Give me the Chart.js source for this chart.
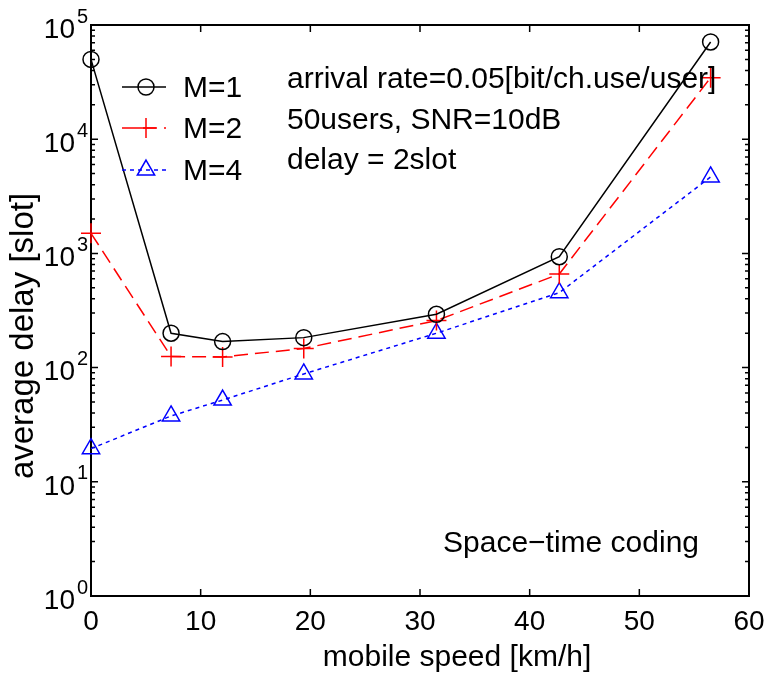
<!DOCTYPE html>
<html>
<head>
<meta charset="utf-8">
<script src="https://cdn.jsdelivr.net/npm/chart.js@4.4.1/dist/chart.umd.min.js"></script>
<style>
  html, body { margin: 0; padding: 0; background: #fff; }
  #wrap { width: 768px; height: 678px; }
</style>
</head>
<body>
<div id="wrap"><canvas id="myChart" width="768" height="678"></canvas></div>
<script>
// values
const speeds = [0, 7.3, 12.0, 19.4, 31.5, 42.7, 56.5];
const delayM1 = [50000, 200, 169, 183, 293, 935, 71000];
const delayM2 = [1500, 125, 124, 147, 258, 660, 34600];
const delayM4 = [19.5, 37.7, 52, 88, 200, 453, 4670];
const seriesNames = ['M=1', 'M=2', 'M=4'];
const xTicks = [0, 10, 20, 30, 40, 50, 60];
const yDecades = [0, 1, 2, 3, 4, 5];
const notes = ['arrival rate=0.05[bit/ch.use/user]', '50users, SNR=10dB', 'delay = 2slot'];
const schemeLabel = 'Space\u2212time coding';

const FONT = '"Liberation Sans", Arial, Helvetica, sans-serif';

function toPoints(ys) {
    return speeds.map((s, i) => ({ x: s, y: ys[i] }));
}

const matlabAxes = {
    id: 'matlabAxes',
    beforeDatasetsDraw(chart) {
        const ctx = chart.ctx;
        const a = chart.chartArea;
        const xs = chart.scales.x;
        const ys = chart.scales.y;
        ctx.save();
        ctx.strokeStyle = '#000';
        ctx.lineWidth = 1.5;
        ctx.beginPath();
        // x ticks top and bottom
        xTicks.forEach(v => {
            const px = xs.getPixelForValue(v);
            ctx.moveTo(px, a.bottom); ctx.lineTo(px, a.bottom - 7);
            ctx.moveTo(px, a.top); ctx.lineTo(px, a.top + 7);
        });
        // y ticks, major + minor
        yDecades.forEach(k => {
            for (let m = 1; m <= 9; m++) {
                const v = m * Math.pow(10, k);
                if (v > 1e5) break;
                const py = ys.getPixelForValue(v);
                const len = m === 1 ? 7 : 4;
                ctx.moveTo(a.left, py); ctx.lineTo(a.left + len, py);
                ctx.moveTo(a.right, py); ctx.lineTo(a.right - len, py);
            }
        });
        ctx.stroke();
        ctx.lineWidth = 2;
        ctx.strokeRect(a.left, a.top, a.right - a.left, a.bottom - a.top);
        ctx.restore();
    },
    afterDraw(chart) {
        const ctx = chart.ctx;
        const ys = chart.scales.y;
        ctx.save();
        ctx.fillStyle = '#000';
        // y tick labels 10^k
        yDecades.forEach(k => {
            const py = ys.getPixelForValue(Math.pow(10, k));
            ctx.font = '28px ' + FONT;
            ctx.textAlign = 'right';
            ctx.textBaseline = 'middle';
            ctx.fillText('10', 75, py + 5);
            ctx.font = '20px ' + FONT;
            ctx.textAlign = 'left';
            ctx.fillText(String(k), 77, py - 8);
        });
        // axis titles
        ctx.textAlign = 'center';
        ctx.textBaseline = 'alphabetic';
        ctx.font = '30px ' + FONT;
        ctx.fillText('mobile speed [km/h]', 457, 666);
        ctx.save();
        ctx.translate(33, 336);
        ctx.rotate(-Math.PI / 2);
        ctx.font = '33px ' + FONT;
        ctx.fillText('average delay [slot]', 0, 0);
        ctx.restore();
        // notes
        ctx.font = '30px ' + FONT;
        ctx.textAlign = 'left';
        const noteBase = [88, 129, 169];
        notes.forEach((t, i) => ctx.fillText(t, 287, noteBase[i]));
        ctx.fillText(schemeLabel, 443, 552);
        // legend
        const rows = [87, 128, 170];
        chart.data.datasets.forEach((ds, i) => {
            const y = rows[i];
            ctx.save();
            ctx.strokeStyle = ds.borderColor;
            ctx.fillStyle = 'rgba(0,0,0,0)';
            ctx.lineWidth = ds.borderWidth;
            ctx.setLineDash(ds.borderDash || []);
            ctx.beginPath();
            ctx.moveTo(122, y); ctx.lineTo(166, y);
            ctx.stroke();
            ctx.setLineDash([]);
            ctx.lineWidth = ds.pointBorderWidth;
            Chart.helpers.drawPoint(ctx, {
                pointStyle: ds.pointStyle, radius: ds.pointRadius,
                borderWidth: ds.pointBorderWidth, rotation: 0
            }, 146, y);
            ctx.restore();
            ctx.fillStyle = '#000';
            ctx.font = '30px ' + FONT;
            ctx.fillText(seriesNames[i], 183, y + 10);
        });
        ctx.restore();
    }
};

const ctx = document.getElementById('myChart');
new Chart(ctx, {
    type: 'line',
    data: {
        datasets: [{
            label: seriesNames[0],
            data: toPoints(delayM1),
            borderColor: '#000000',
            backgroundColor: 'rgba(0,0,0,0)',
            borderWidth: 1.5,
            pointStyle: 'circle',
            pointRadius: 8,
            pointBorderWidth: 1.5,
            clip: false
        }, {
            label: seriesNames[1],
            data: toPoints(delayM2),
            borderColor: '#ff0000',
            backgroundColor: 'rgba(0,0,0,0)',
            borderWidth: 1.5,
            borderDash: [14, 7],
            pointStyle: 'cross',
            pointRadius: 10,
            pointBorderWidth: 1.5,
            clip: false
        }, {
            label: seriesNames[2],
            data: toPoints(delayM4),
            borderColor: '#0000ff',
            backgroundColor: 'rgba(0,0,0,0)',
            borderWidth: 1.5,
            borderDash: [4, 4],
            pointStyle: 'triangle',
            pointRadius: 10,
            pointBorderWidth: 1.5,
            clip: false
        }]
    },
    options: {
        responsive: false,
        animation: false,
        events: [],
        layout: { padding: { top: 25, right: 19, left: 0, bottom: 0 } },
        plugins: {
            legend: { display: false },
            tooltip: { enabled: false }
        },
        scales: {
            x: {
                type: 'linear',
                min: 0,
                max: 60,
                afterBuildTicks: (s) => { s.ticks = xTicks.map(v => ({ value: v })); },
                afterFit: (s) => { s.height = 82; s.paddingLeft = 0; s.paddingRight = 0; },
                grid: { display: false, drawTicks: false },
                border: { display: false },
                ticks: {
                    color: '#000',
                    padding: 9,
                    maxRotation: 0,
                    autoSkip: false,
                    font: { family: FONT, size: 28 }
                }
            },
            y: {
                type: 'logarithmic',
                min: 1,
                max: 100000,
                afterBuildTicks: (s) => { s.ticks = yDecades.map(k => ({ value: Math.pow(10, k) })); },
                afterFit: (s) => { s.width = 91; s.paddingTop = 0; s.paddingBottom = 0; },
                grid: { display: false, drawTicks: false },
                border: { display: false },
                ticks: { display: false }
            }
        }
    },
    plugins: [matlabAxes]
});
</script>
</body>
</html>
